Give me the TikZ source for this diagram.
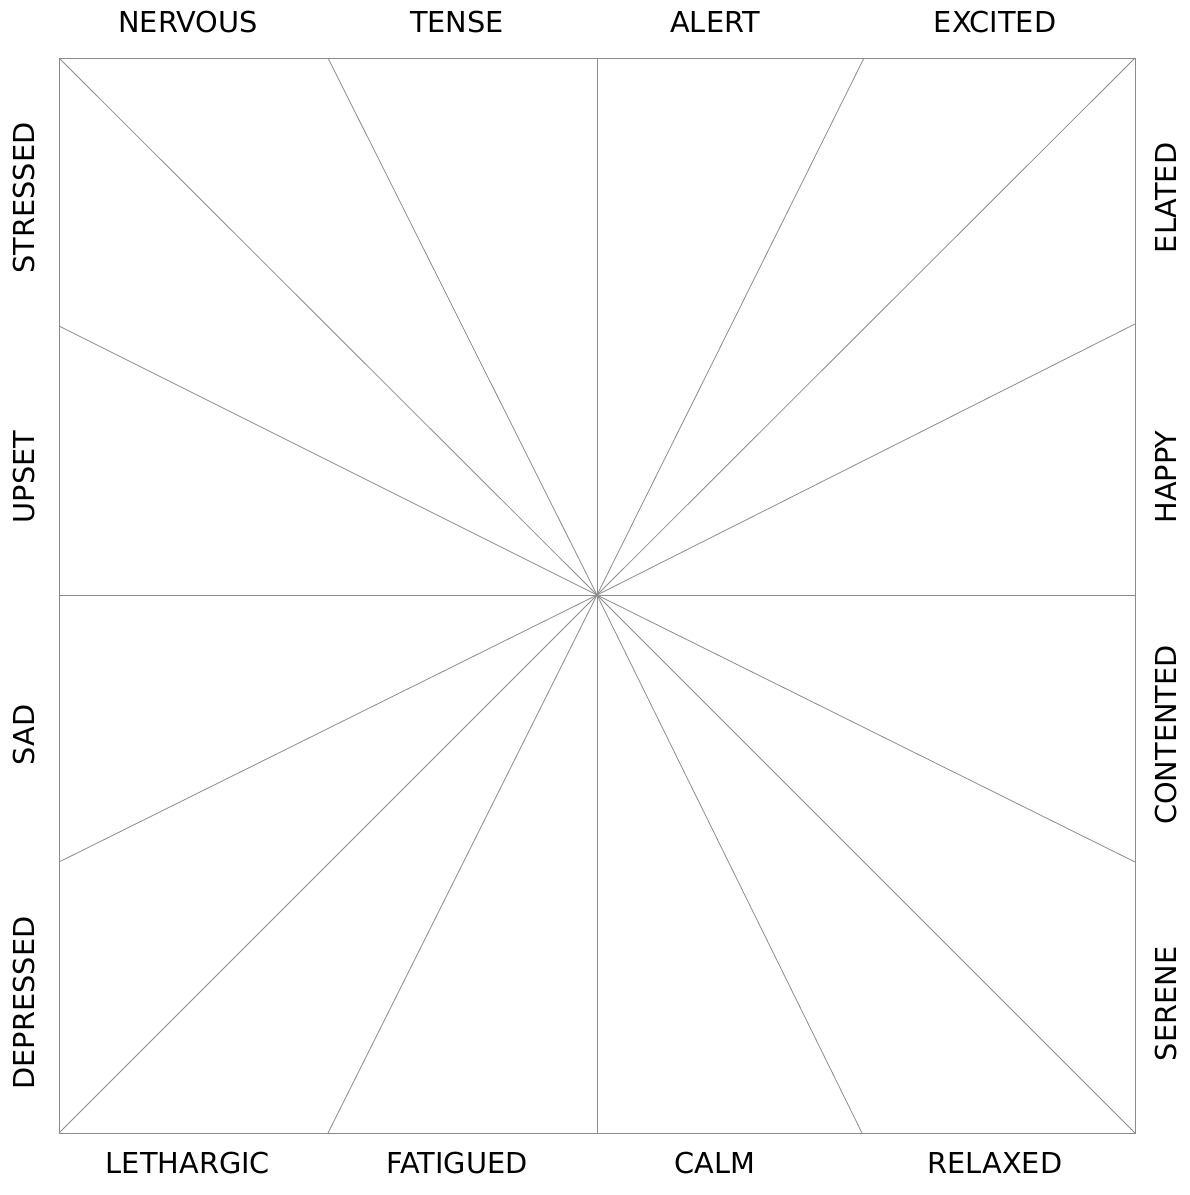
\documentclass[tikz,border=0pt]{standalone}
\usepackage{fontspec}
\setmainfont{DejaVu Sans}
\begin{document}
\begin{tikzpicture}[x=1pt,y=-1pt,
  ray/.style={draw=black!45,line width=0.8pt},
  lbl/.style={font=\fontsize{28.8}{32}\selectfont,inner sep=0pt,anchor=center},
  vlbl/.style={lbl,rotate=90}]
\useasboundingbox (0,0) rectangle (1190,1195);
\coordinate (c) at (597,595);
\coordinate (t0) at (59,58);   \coordinate (t1) at (328,58);  \coordinate (t2) at (597,58);
\coordinate (t3) at (864,58);  \coordinate (t4) at (1135,58);
\coordinate (b0) at (59,1133); \coordinate (b1) at (328,1133); \coordinate (b2) at (597,1133);
\coordinate (b3) at (862,1133);\coordinate (b4) at (1135,1133);
\coordinate (l1) at (59,326);  \coordinate (l2) at (59,595);   \coordinate (l3) at (59,862);
\coordinate (r1) at (1135,324);\coordinate (r2) at (1135,595); \coordinate (r3) at (1135,862);
\draw[ray] (t0) rectangle (b4);
\foreach \p in {t0,t1,t2,t3,t4,b0,b1,b2,b3,b4,l1,l2,l3,r1,r2,r3}
  \draw[ray] (c) -- (\p);
\node[lbl] (nervous) at (188,22) {NERVOUS};
\node[lbl] (tense) at (457,22) {TENSE};
\node[lbl] (alert) at (715,22) {ALERT};
\node[lbl] (excited) at (995,22) {EXCITED};
\node[lbl] (lethargic) at (188,1163) {LETHARGIC};
\node[lbl] (fatigued) at (457,1163) {FATIGUED};
\node[lbl] (calm) at (715,1163) {CALM};
\node[lbl] (relaxed) at (995,1163) {RELAXED};
\node[vlbl] (stressed) at (24,198) {STRESSED};
\node[vlbl] (upset) at (24,477) {UPSET};
\node[vlbl] (sad) at (24,735) {SAD};
\node[vlbl] (depressed) at (24,1003) {DEPRESSED};
\node[vlbl] (elated) at (1166,198) {ELATED};
\node[vlbl] (happy) at (1166,477) {HAPPY};
\node[vlbl] (contented) at (1166,735) {CONTENTED};
\node[vlbl] (serene) at (1166,1004) {SERENE};
\end{tikzpicture}
\end{document}
